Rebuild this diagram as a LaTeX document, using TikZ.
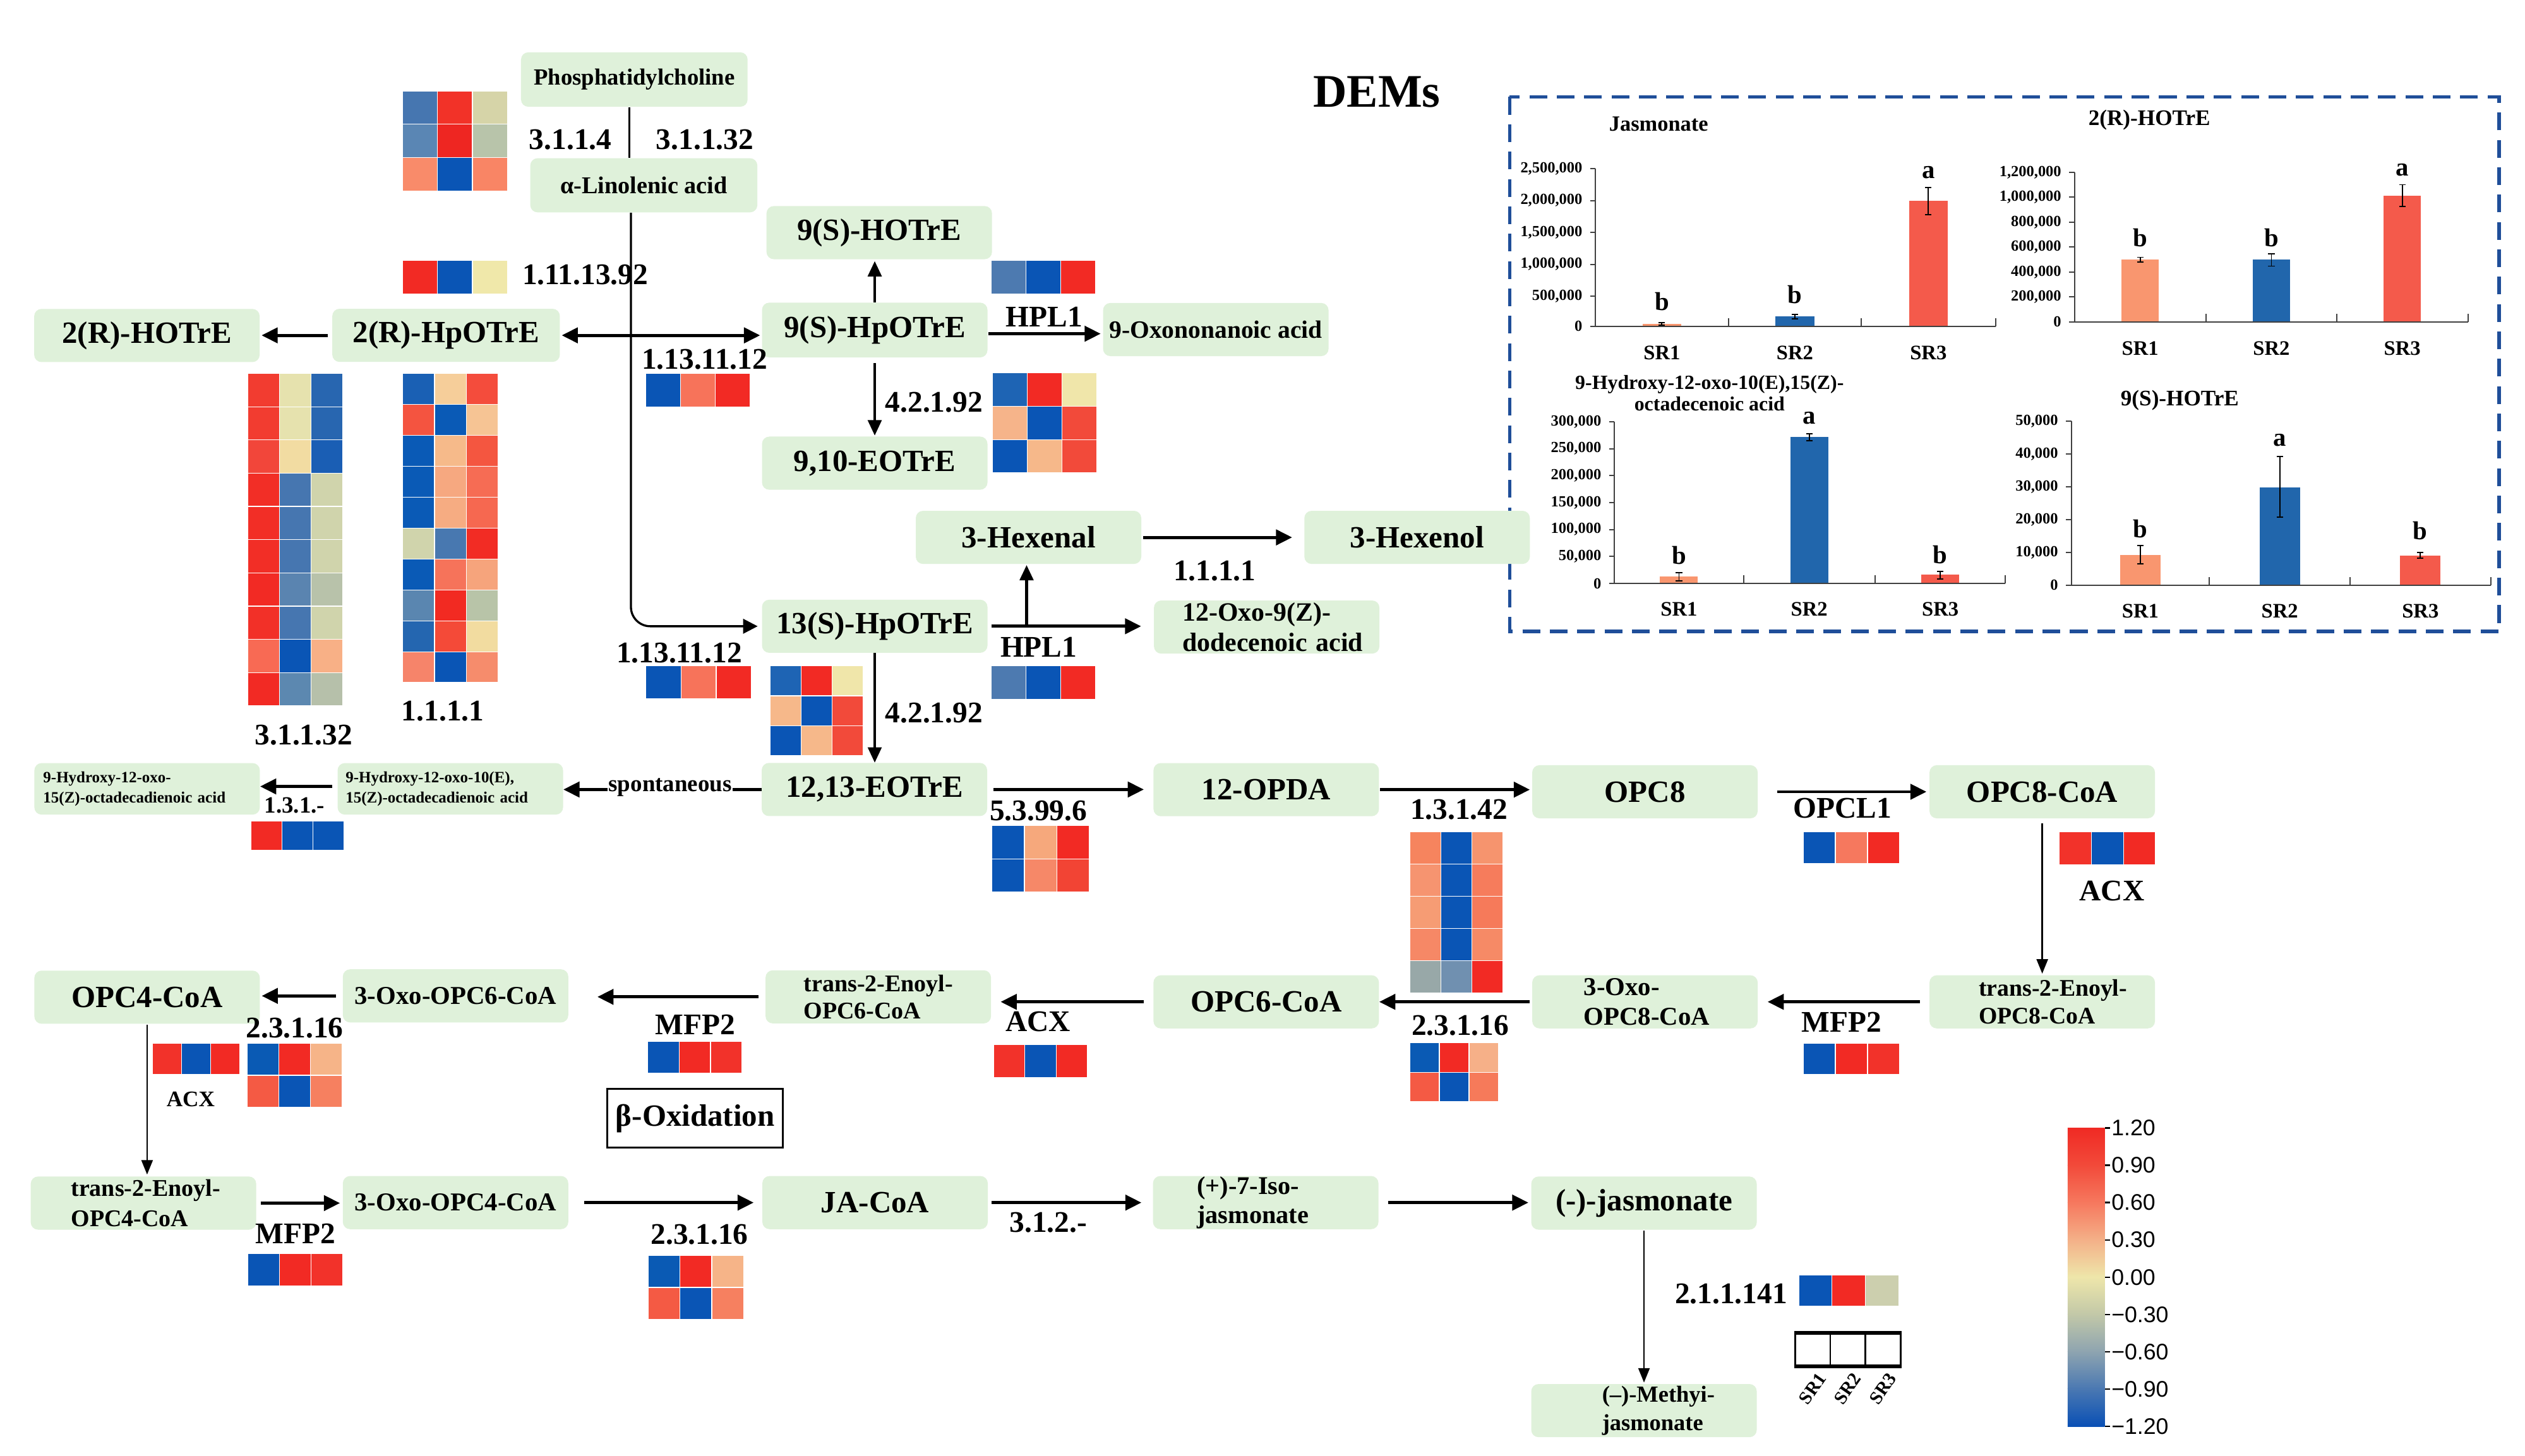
\documentclass[tikz,border=0pt]{standalone}
\usepackage{fontspec}
\setmainfont{Liberation Serif}
\newfontfamily\sansf{Liberation Sans}
\usetikzlibrary{arrows.meta}
\definecolor{boxg}{HTML}{DFF1DA}
\definecolor{dashblue}{HTML}{1F4E99}
\definecolor{barA}{HTML}{F9966F}
\definecolor{barB}{HTML}{2166AC}
\definecolor{barC}{HTML}{F45A4B}
\definecolor{cbA}{HTML}{F02A24}
\definecolor{cbB}{HTML}{F24A3A}
\definecolor{cbC}{HTML}{F6785E}
\definecolor{cbD}{HTML}{F4B088}
\definecolor{cbE}{HTML}{EEE6AA}
\definecolor{cbF}{HTML}{C2C8A8}
\definecolor{cbG}{HTML}{8EA4B0}
\definecolor{cbH}{HTML}{4A78B2}
\definecolor{cbI}{HTML}{0A50B5}
\newcommand\fzBig{\bfseries\fontsize{19.2}{21}\selectfont}
\newcommand\fzLab{\bfseries\fontsize{18.6}{20}\selectfont}
\newcommand\fzMed{\bfseries\fontsize{15.5}{18}\selectfont}
\newcommand\fzSml{\bfseries\fontsize{9.8}{12.6}\selectfont}
\newcommand\fzTick{\bfseries\fontsize{9.6}{10}\selectfont}
\newcommand\fzSR{\bfseries\fontsize{12.8}{13}\selectfont}
\newcommand\fzLet{\bfseries\fontsize{16}{17}\selectfont}
\newcommand\fzCT{\bfseries\fontsize{13.8}{15}\selectfont}
\newcommand\fzCB{\sansf\fontsize{14}{15}\selectfont}
\newcommand\hmcell[5]{\definecolor{hmtmp}{HTML}{#5}\fill[hmtmp,draw=white,line width=0.5pt] (#1,#2) rectangle ++(#3,#4);}
\newcommand\hmrow[7]{\hmcell{#1}{#2}{#3}{#4}{#5}\hmcell{#1+#3}{#2}{#3}{#4}{#6}\hmcell{#1+2*#3}{#2}{#3}{#4}{#7}}
\newcommand\ytk[4]{\draw[axc] (#1-3.3,#2) -- (#1,#2); \node[tk] (#4) at (#1-8,#2) {#3};}
\newcommand\ebar[3]{\draw[eb] (#1,#2) -- (#1,#3) (#1-2,#2) -- (#1+2,#2) (#1-2,#3) -- (#1+2,#3);}
\newcommand\cbar[5]{\fill[#5] (#1-#2/2,#3) rectangle (#1+#2/2,#4);}
\begin{document}
\begin{tikzpicture}[x=1pt,y=-1pt,
 bx/.style={fill=boxg, rounded corners=4.5pt, minimum width=140pt, minimum height=33pt, inner sep=0pt, align=center, font=\fzBig},
 bxl/.style={bx, align=left, text width=#1},
 lab/.style={inner sep=0pt, font=\fzLab},
 arw/.style={line width=1.9pt, -{Triangle[length=10pt,width=9.5pt]}, shorten <=2pt, shorten >=1.5pt},
 arwd/.style={line width=1.9pt, {Triangle[length=10pt,width=9.5pt]}-{Triangle[length=10pt,width=9.5pt]}, shorten <=1pt, shorten >=1pt},
 arwm/.style={line width=1.5pt, -{Triangle[length=9.5pt,width=8.5pt]}, shorten <=1pt, shorten >=1pt},
 arwt/.style={line width=1.1pt, -{Triangle[length=9pt,width=7pt]}, shorten <=2pt, shorten >=1pt},
 axc/.style={draw=black!75, line width=0.8pt},
 tk/.style={inner sep=0pt, font=\fzTick, anchor=east},
 sr/.style={inner sep=0pt, font=\fzSR},
 sigl/.style={inner sep=0pt, font=\fzLet},
 eb/.style={line width=0.7pt, black},
]
\fill[white] (0,0) rectangle (1568,904.4);
\useasboundingbox (0,0) rectangle (1568,904.4);

% ---------- inset with bar charts ----------
\draw[dashblue, line width=2.2pt, dash pattern=on 11pt off 6pt] (937.5,60.2) rectangle (1552,392.3);
% chart 1
\cbar{1032}{24}{201.2}{202.6}{barA}
\cbar{1114.6}{24}{196.5}{202.6}{barB}
\cbar{1197.5}{24}{124.8}{202.6}{barC}
\draw[axc] (990.8,104.8) -- (990.8,202.6) -- (1239.2,202.6);
\draw[axc] (1073.3,202.6) -- ++(0,-5) (1155.9,202.6) -- ++(0,-5) (1239.2,202.6) -- ++(0,-5);
\ytk{990.8}{104.8}{2,500,000}{c1a}
\ytk{990.8}{124.6}{2,000,000}{c1b}
\ytk{990.8}{144.4}{1,500,000}{c1c}
\ytk{990.8}{164.2}{1,000,000}{c1d}
\ytk{990.8}{183.9}{500,000}{c1e}
\ytk{990.8}{202.6}{0}{c1f}
\ebar{1032}{200.3}{202}
\ebar{1114.6}{195.2}{198}
\ebar{1197.5}{116.5}{133.2}
\node[sigl] (c1l1) at (1032,187.3) {b};
\node[sigl] (c1l2) at (1114.6,182.8) {b};
\node[sigl] (c1l3) at (1197.5,107) {a};
\node[sr] (c1s1) at (1032,219.3) {SR1};
\node[sr] (c1s2) at (1114.6,219.3) {SR2};
\node[sr] (c1s3) at (1197.5,219.3) {SR3};
\node[inner sep=0pt, font=\bfseries\fontsize{13.5}{15}\selectfont] (c1t) at (1030,76.9) {Jasmonate};
% chart 2
\cbar{1329}{23}{161.3}{200}{barA}
\cbar{1410.5}{23}{161.3}{200}{barB}
\cbar{1491.8}{23}{121.5}{200}{barC}
\draw[axc] (1288.2,107) -- (1288.2,200) -- (1532.6,200);
\draw[axc] (1370,200) -- ++(0,-5) (1451,200) -- ++(0,-5) (1532.6,200) -- ++(0,-5);
\ytk{1288.2}{107}{1,200,000}{c2a}
\ytk{1288.2}{122.5}{1,000,000}{c2b}
\ytk{1288.2}{138}{800,000}{c2c}
\ytk{1288.2}{153.5}{600,000}{c2d}
\ytk{1288.2}{169}{400,000}{c2e}
\ytk{1288.2}{184.5}{200,000}{c2f}
\ytk{1288.2}{200}{0}{c2g}
\ebar{1329}{159.8}{162.8}
\ebar{1410.5}{157.6}{165.3}
\ebar{1491.8}{114.7}{128.3}
\node[sigl] (c2l1) at (1329,147.7) {b};
\node[sigl] (c2l2) at (1410.5,147.7) {b};
\node[sigl] (c2l3) at (1491.8,105.5) {a};
\node[sr] (c2s1) at (1329,216.3) {SR1};
\node[sr] (c2s2) at (1410.5,216.3) {SR2};
\node[sr] (c2s3) at (1491.8,216.3) {SR3};
\node[inner sep=0pt, font=\fzCT] (c2t) at (1334.7,74.7) {2(R)-HOTrE};
% chart 3
\cbar{1042.6}{23.5}{358}{362.4}{barA}
\cbar{1123.5}{23.5}{271.4}{362.4}{barB}
\cbar{1204.9}{23.5}{356.7}{362.4}{barC}
\draw[axc] (1002.5,262) -- (1002.5,362.4) -- (1245.3,362.4);
\draw[axc] (1082.7,362.4) -- ++(0,-5) (1164.4,362.4) -- ++(0,-5) (1245.3,362.4) -- ++(0,-5);
\ytk{1002.5}{262}{300,000}{c3a}
\ytk{1002.5}{278.7}{250,000}{c3b}
\ytk{1002.5}{295.4}{200,000}{c3c}
\ytk{1002.5}{312.1}{150,000}{c3d}
\ytk{1002.5}{328.9}{100,000}{c3e}
\ytk{1002.5}{345.7}{50,000}{c3f}
\ytk{1002.5}{362.4}{0}{c3g}
\ebar{1042.6}{355.8}{360.9}
\ebar{1123.5}{269.5}{273.8}
\ebar{1204.9}{355}{359.6}
\node[sigl] (c3l1) at (1042.6,345) {b};
\node[sigl] (c3l2) at (1123.5,259.8) {a};
\node[sigl] (c3l3) at (1204.9,344.6) {b};
\node[sr] (c3s1) at (1042.6,378.5) {SR1};
\node[sr] (c3s2) at (1123.5,378.5) {SR2};
\node[sr] (c3s3) at (1204.9,378.5) {SR3};
\node[inner sep=0pt, align=center, font=\bfseries\fontsize{12.5}{13.6}\selectfont] (c3t) at (1061.6,244.2) {9-Hydroxy-12-oxo-10(E),15(Z)-\\octadecenoic acid};
% chart 4
\cbar{1329.1}{25}{344.6}{363.5}{barA}
\cbar{1415.7}{25}{302.6}{363.5}{barB}
\cbar{1503}{25}{345}{363.5}{barC}
\draw[axc] (1286.2,261.5) -- (1286.2,363.5) -- (1546.7,363.5);
\draw[axc] (1372,363.5) -- ++(0,-5) (1459.4,363.5) -- ++(0,-5) (1546.7,363.5) -- ++(0,-5);
\ytk{1286.2}{261.5}{50,000}{c4a}
\ytk{1286.2}{281.9}{40,000}{c4b}
\ytk{1286.2}{302.3}{30,000}{c4c}
\ytk{1286.2}{322.7}{20,000}{c4d}
\ytk{1286.2}{343.1}{10,000}{c4e}
\ytk{1286.2}{363.5}{0}{c4f}
\ebar{1329.1}{339}{350.3}
\ebar{1415.7}{283.5}{321.3}
\ebar{1503}{343.3}{346.6}
\node[sigl] (c4l1) at (1329.1,328.4) {b};
\node[sigl] (c4l2) at (1415.7,273.4) {a};
\node[sigl] (c4l3) at (1503,329.7) {b};
\node[sr] (c4s1) at (1329.1,379.6) {SR1};
\node[sr] (c4s2) at (1415.7,379.6) {SR2};
\node[sr] (c4s3) at (1503,379.6) {SR3};
\node[inner sep=0pt, font=\fzCT] (c4t) at (1353.6,248.8) {9(S)-HOTrE};

\node[inner sep=0pt, font=\bfseries\fontsize{29}{30}\selectfont] (dems) at (855,57) {DEMs};

% ---------- compound boxes ----------
\node[bx, font=\bfseries\fontsize{14.4}{16}\selectfont, minimum width=140.7pt, minimum height=33.8pt] (pc) at (393.9,49.4) {Phosphatidylcholine};
\node[bx, font=\bfseries\fontsize{15}{17}\selectfont, minimum width=141pt, minimum height=33.6pt] (ala) at (399.8,115.1) {α-Linolenic acid};
\node[bx] (ho2r) at (91.25,208.4) {2(R)-HOTrE};
\node[bx, minimum width=141.3pt] (hp2r) at (277,208.3) {2(R)-HpOTrE};
\node[bx, minimum height=34pt] (hp9) at (543.2,205) {9(S)-HpOTrE};
\node[bx] (ho9) at (546,144.5) {9(S)-HOTrE};
\node[bx, font=\fzMed] (oxo9) at (755,204.7) {9-Oxononanoic acid};
\node[bx] (eo910) at (543.2,287.7) {9,10-EOTrE};
\node[bx] (hexal) at (638.7,333.8) {3-Hexenal};
\node[bx] (hexol) at (880,333.8) {3-Hexenol};
\node[bx] (hp13) at (543.2,389) {13(S)-HpOTrE};
\node[bxl=104.5pt, font=\bfseries\fontsize{16.4}{19}\selectfont] (oxo12) at (786.6,389.5) {\mbox{12-Oxo-9(Z)-}\\\mbox{dodecenoic acid}};
\node[bx] (eo1213) at (543,490.4) {12,13-EOTrE};
\node[bxl=130pt, font=\fzSml, minimum height=32pt] (hy10) at (279.65,490) {\mbox{9-Hydroxy-12-oxo-10(E),}\\\mbox{15(Z)-octadecadienoic acid}};
\node[bxl=129pt, font=\fzSml, minimum height=32pt] (hy15) at (91.35,490) {\mbox{9-Hydroxy-12-oxo-}\\\mbox{15(Z)-octadecadienoic acid}};
\node[bx] (opda) at (786.3,490.5) {12-OPDA};
\node[bx] (opc8) at (1021.5,491.8) {OPC8};
\node[bx] (o8coa) at (1268.2,491.8) {OPC8-CoA};
\node[bxl=78.8pt, font=\bfseries\fontsize{14.8}{17}\selectfont] (t8) at (1268.2,622.3) {\mbox{trans-2-Enoyl-}\\\mbox{OPC8-CoA}};
\node[bxl=76pt, font=\bfseries\fontsize{16}{18.7}\selectfont] (x8) at (1021.5,622.3) {\mbox{3-Oxo-}\\\mbox{OPC8-CoA}};
\node[bx] (o6coa) at (786.3,622.3) {OPC6-CoA};
\node[bxl=92.6pt, font=\bfseries\fontsize{14.9}{17}\selectfont] (t6) at (545.4,619.2) {\mbox{trans-2-Enoyl-}\\\mbox{OPC6-CoA}};
\node[bx, font=\bfseries\fontsize{16}{18}\selectfont] (x6) at (282.9,618.6) {3-Oxo-OPC6-CoA};
\node[bx] (o4coa) at (91.35,619.4) {OPC4-CoA};
\node[bxl=90pt, font=\bfseries\fontsize{14.9}{18.8}\selectfont] (t4) at (89.1,747.3) {\mbox{trans-2-Enoyl-}\\\mbox{OPC4-CoA}};
\node[bx, font=\bfseries\fontsize{16}{18}\selectfont] (x4) at (282.9,747) {3-Oxo-OPC4-CoA};
\node[bx] (jacoa) at (543.4,747) {JA-CoA};
\node[bxl=85.4pt, font=\bfseries\fontsize{15.8}{18}\selectfont] (iso) at (786,747) {\mbox{(+)-7-Iso-}\\\mbox{jasmonate}};
\node[bx] (ja) at (1020.9,747.3) {(-)-jasmonate};
\node[bxl=52pt, font=\bfseries\fontsize{14.3}{17.5}\selectfont] (meja) at (1020.9,876.2) {\mbox{(–)-Methyi-}\\\mbox{jasmonate}};
\node[draw, line width=1.2pt, minimum width=109pt, minimum height=36.3pt, inner sep=0pt, font=\fzBig] (boxb) at (431.7,694.65) {β-Oxidation};

% ---------- heatmaps ----------
\hmrow{250}{56.5}{21.7}{20.7}{4676B0}{F23228}{D6D4A8}
\hmrow{250}{77.2}{21.7}{20.7}{5A86B4}{EE2622}{B8C4AA}
\hmrow{250}{97.9}{21.7}{20.7}{F98B6A}{0A55B5}{F98565}
\hmrow{250}{161.9}{21.7}{20.7}{F22A24}{0A55B5}{F0E8AA}
\hmrow{401}{231.8}{21.6}{21.2}{0A55B5}{F7735A}{F22A24}
\hmrow{615.5}{161.6}{21.6}{21.2}{4D7AB0}{0A55B5}{F22A24}
\hmrow{616.2}{231.7}{21.6}{20.67}{1E64B4}{F22A24}{F0E6AA}
\hmrow{616.2}{252.37}{21.6}{20.67}{F6B48A}{0A55B5}{F24A3A}
\hmrow{616.2}{273.04}{21.6}{20.67}{0A55B5}{F6B88A}{F24A3A}
\hmrow{615.5}{413.7}{21.6}{20.8}{4D7AB0}{0A55B5}{F22A24}
\hmrow{401.1}{413.5}{21.8}{20.7}{0A55B5}{F7735A}{F22A24}
\hmrow{478.4}{413.7}{19.2}{18.5}{1E64B4}{F22A24}{F0E6AA}
\hmrow{478.4}{432.2}{19.2}{18.5}{F6B88A}{0A55B5}{F24A3A}
\hmrow{478.4}{450.7}{19.2}{18.5}{0A55B5}{F6B88A}{F24A3A}
\hmrow{156}{510}{19.2}{18}{F22A24}{0A55B5}{0A55B5}
% 3.1.1.32
\hmrow{153.8}{232}{19.67}{20.64}{F23C30}{E6E2AE}{2866B0}
\hmrow{153.8}{252.64}{19.67}{20.64}{F23C30}{E6E2AE}{2866B0}
\hmrow{153.8}{273.28}{19.67}{20.64}{F2463A}{F2DCA2}{1A5EB4}
\hmrow{153.8}{293.92}{19.67}{20.64}{F22E26}{4676B0}{D0D4AC}
\hmrow{153.8}{314.56}{19.67}{20.64}{F22E26}{4676B0}{D0D4AC}
\hmrow{153.8}{335.2}{19.67}{20.64}{F22E26}{4676B0}{D0D4AC}
\hmrow{153.8}{355.84}{19.67}{20.64}{F22A24}{5A84B0}{B8C2AA}
\hmrow{153.8}{376.48}{19.67}{20.64}{F23028}{4676B0}{D0D4AC}
\hmrow{153.8}{397.12}{19.67}{20.64}{F86A54}{0A55B5}{F8B086}
\hmrow{153.8}{417.76}{19.67}{20.64}{F22A24}{5C88B0}{B6C0AA}
% 1.1.1.1
\hmrow{250}{232}{19.8}{19.2}{1A60B4}{F6CE9A}{F44C3C}
\hmrow{250}{251.2}{19.8}{19.2}{F45440}{0A5AB6}{F6C494}
\hmrow{250}{270.4}{19.8}{19.2}{0A5AB6}{F6BA8A}{F45640}
\hmrow{250}{289.6}{19.8}{19.2}{0A5AB6}{F6A880}{F66C54}
\hmrow{250}{308.8}{19.8}{19.2}{0A5AB6}{F6AC82}{F66850}
\hmrow{250}{328}{19.8}{19.2}{D0D4AC}{4878B0}{F22C24}
\hmrow{250}{347.2}{19.8}{19.2}{0A5AB6}{F6735A}{F6A47C}
\hmrow{250}{366.4}{19.8}{19.2}{5A86B0}{F22A22}{B8C4A8}
\hmrow{250}{385.6}{19.8}{19.2}{2466B0}{F44A38}{F2DCA0}
\hmrow{250}{404.8}{19.8}{19.2}{F6846A}{0A55B5}{F68C6C}
% 5.3.99.6
\hmrow{616}{512.7}{20.13}{20.75}{0A55B5}{F6A87C}{F22A24}
\hmrow{616}{533.45}{20.13}{20.75}{0A55B5}{F68868}{F24434}
% 1.3.1.42
\hmrow{875.4}{516.5}{19.3}{20.08}{F6845E}{0A55B5}{F6946E}
\hmrow{875.4}{536.58}{19.3}{20.08}{F69470}{0A55B5}{F67C5C}
\hmrow{875.4}{556.66}{19.3}{20.08}{F69C74}{0A55B5}{F67A5A}
\hmrow{875.4}{576.74}{19.3}{20.08}{F68866}{0A55B5}{F68A66}
\hmrow{875.4}{596.82}{19.3}{20.08}{98A8A8}{7090B0}{F22A24}
% OPCL1, ACX, MFP2 (right)
\hmrow{1119.8}{516.7}{19.93}{19.7}{0A55B5}{F6785E}{F22A24}
\hmrow{1278.6}{516.7}{20}{20.3}{F2322A}{0A55B5}{F22A24}
\hmrow{1119.8}{648}{19.93}{19.5}{0A55B5}{F22A24}{F2322A}
% 2.3.1.16 (OPC6)
\hmrow{875.4}{647.7}{18.43}{18.3}{0A5AB4}{F22A24}{F6B088}
\hmrow{875.4}{666}{18.43}{18.3}{F45A44}{0A55B5}{F67A5A}
% ACX, MFP2 (middle)
\hmrow{616.9}{648.9}{19.5}{20.4}{F2322A}{0A55B5}{F22A24}
\hmrow{402.2}{646.7}{19.53}{19.9}{0A55B5}{F22A24}{F2322A}
% ACX (OPC4), 2.3.1.16 (OPC4)
\hmrow{94.6}{648.2}{18.1}{19.1}{F2322A}{0A55B5}{F22A24}
\hmrow{153.5}{648}{19.6}{19.85}{0A5AB4}{F22A24}{F6B488}
\hmrow{153.5}{667.85}{19.6}{19.85}{F45A44}{0A55B5}{F68060}
% MFP2 (OPC4), 2.3.1.16 (JA)
\hmrow{153.8}{778.8}{19.73}{19.8}{0A55B5}{F22A24}{F2322A}
\hmrow{402.6}{779.9}{19.7}{19.75}{0A5AB4}{F22A24}{F6B488}
\hmrow{402.6}{799.65}{19.7}{19.75}{F45A44}{0A55B5}{F68060}
% 2.1.1.141
\hmrow{1117}{792}{20.67}{19.4}{0A55B5}{F22A24}{CCCFAE}
% sample legend
\draw[line width=1pt] (1114.7,827.9) rectangle (1180.2,848.7);
\draw[line width=1pt] (1136.5,827.9) -- (1136.5,848.7) (1158.4,827.9) -- (1158.4,848.7);
\draw[line width=2.2pt] (1114.2,827.9) -- (1180.7,827.9) (1114.2,848.7) -- (1180.7,848.7);
\node[sr, font=\bfseries\fontsize{11.5}{12}\selectfont, rotate=55, anchor=east] (sa1) at (1131.5,854) {SR1};
\node[sr, font=\bfseries\fontsize{11.5}{12}\selectfont, rotate=55, anchor=east] (sa2) at (1153.3,854) {SR2};
\node[sr, font=\bfseries\fontsize{11.5}{12}\selectfont, rotate=55, anchor=east] (sa3) at (1175.2,854) {SR3};

% ---------- colour bar ----------
\shade[top color=cbA, bottom color=cbB] (1284,700.6) rectangle (1307,723.8);
\shade[top color=cbB, bottom color=cbC] (1284,723.7) rectangle (1307,747);
\shade[top color=cbC, bottom color=cbD] (1284,746.9) rectangle (1307,770.1);
\shade[top color=cbD, bottom color=cbE] (1284,770) rectangle (1307,793.3);
\shade[top color=cbE, bottom color=cbF] (1284,793.2) rectangle (1307,816.5);
\shade[top color=cbF, bottom color=cbG] (1284,816.4) rectangle (1307,839.6);
\shade[top color=cbG, bottom color=cbH] (1284,839.5) rectangle (1307,862.8);
\shade[top color=cbH, bottom color=cbI] (1284,862.7) rectangle (1307,886);
\foreach \i/\t in {0/1.20,1/0.90,2/0.60,3/0.30,4/0.00,5/−0.30,6/−0.60,7/−0.90,8/−1.20}{
  \draw[line width=0.9pt] (1307,700.6+23.175*\i) -- (1310.5,700.6+23.175*\i);
  \node[anchor=west, inner sep=0pt, font=\fzCB] (cb\i) at (1311,700.6+23.175*\i) {\t};
}

% ---------- connectors ----------
\draw[line width=1.1pt] ([xshift=-3pt]pc.south) -- ([xshift=-3pt]pc.south |- ala.north);
\draw[line width=1.3pt, -{Triangle[length=9pt,width=9pt]}, rounded corners=12pt, shorten >=2.5pt] ([xshift=-8pt]ala.south) -- ([xshift=-8pt]ala.south |- hp13.west) -- (hp13.west);
\draw[arw, shorten <=2.5pt, shorten >=1pt] (hp2r.west) -- (ho2r.east |- hp2r.west);
\draw[arwd] (hp2r.east) -- (hp9.west |- hp2r.east);
\draw[arwm, shorten <=0pt] (hp9.north) -- (hp9.north |- ho9.south);
\draw[arw, shorten <=0.5pt, shorten >=1.3pt] ([yshift=-2.3pt]hp9.east) -- ([yshift=-2.3pt]hp9.east -| oxo9.west);
\draw[arwm, line width=1.3pt, shorten <=3.5pt, shorten >=0.5pt] (hp9.south) -- (hp9.south |- eo910.north);
\draw[arw, shorten <=1pt, shorten >=7.4pt] (hexal.east) -- (hexal.east -| hexol.west);
\draw[arw, shorten <=2.2pt, shorten >=7.8pt] (hp13.east) -- (hp13.east -| oxo12.west);
\draw[arwm, line width=1.6pt, shorten <=0pt, shorten >=0.5pt] ([xshift=-1.2pt]hexal.south |- hp13.east) -- ([xshift=-1.2pt]hexal.south);
\draw[arwm, line width=1.3pt, shorten <=0pt, shorten >=0pt] (hp13.south) -- (hp13.south |- eo1213.north);
\draw[arw, shorten <=0pt, shorten >=0pt] (eo1213.west) -- (eo1213.west -| hy10.east);
\node[fill=white, inner sep=0.5pt, font=\bfseries\fontsize{14.5}{16}\selectfont] (spon) at (416.2,489) {spontaneous};
\draw[arw, shorten <=3pt, shorten >=0pt] ([yshift=1.5pt]hy10.west) -- ([yshift=1.5pt]hy10.west -| hy15.east);
\draw[arw, shorten <=3.6pt, shorten >=5.8pt] (eo1213.east) -- (eo1213.east -| opda.west);
\draw[arw, shorten <=0.5pt, shorten >=1.3pt] (opda.east) -- (opda.east -| opc8.west);
\draw[arw, shorten <=12pt, shorten >=1.7pt] (opc8.east) -- (opc8.east -| o8coa.west);
\draw[arwt, shorten <=2.8pt, shorten >=0.8pt] (o8coa.south) -- (o8coa.south |- t8.north);
\draw[arw, shorten <=5.9pt, shorten >=6pt] (t8.west) -- (t8.west -| x8.east);
\draw[arw, shorten <=1.5pt, shorten >=0pt] (x8.west) -- (x8.west -| o6coa.east);
\draw[arw, shorten <=5.8pt, shorten >=5.8pt] (o6coa.west) -- (o6coa.west -| t6.east);
\draw[arw, shorten <=4pt, shorten >=17.9pt] (t6.west) -- (t6.west -| x6.east);
\draw[arw, shorten <=4.2pt, shorten >=1pt] (x6.west) -- (x6.west -| o4coa.east);
\draw[arwt, shorten <=0.5pt, shorten >=1pt] (o4coa.south) -- (o4coa.south |- t4.north);
\draw[arw, shorten <=2.7pt, shorten >=1.6pt] (t4.east) -- (t4.east -| x4.west);
\draw[arw, shorten <=9.8pt, shorten >=5.2pt] (x4.east) -- (x4.east -| jacoa.west);
\draw[arw, shorten <=2.1pt, shorten >=7pt] (jacoa.east) -- (jacoa.east -| iso.west);
\draw[arw, shorten <=6pt, shorten >=1.6pt] (iso.east) -- (iso.east -| ja.west);
\draw[arwt, shorten <=0.5pt, shorten >=0.7pt] (ja.south) -- (ja.south |- meja.north);

% ---------- enzyme labels ----------
\node[lab] (e3114) at (354.2,86.6) {3.1.1.4};
\node[lab] (e3132a) at (437.7,86.6) {3.1.1.32};
\node[lab] (e1113) at (363.4,170.6) {1.11.13.92};
\node[lab] (e13a) at (437.5,223.1) {1.13.11.12};
\node[lab] (hpl1a) at (648.4,196.7) {HPL1};
\node[lab] (e42a) at (580,249.7) {4.2.1.92};
\node[lab] (e1111b) at (754.3,354.7) {1.1.1.1};
\node[lab] (e13b) at (421.8,405.7) {1.13.11.12};
\node[lab] (hpl1b) at (645,401.8) {HPL1};
\node[lab] (e42b) at (580,443) {4.2.1.92};
\node[lab] (e3132b) at (188.6,456.6) {3.1.1.32};
\node[lab] (e1111c) at (275,441.7) {1.1.1.1};
\node[lab, font=\bfseries\fontsize{14.5}{16}\selectfont] (e131) at (182.9,500.4) {1.3.1.-};
\node[lab] (e5399) at (644.8,503.8) {5.3.99.6};
\node[lab] (e13142) at (906,503) {1.3.1.42};
\node[lab] (opcl) at (1144.2,502) {OPCL1};
\node[lab] (acx1) at (1311.5,553.3) {ACX};
\node[lab] (mfp1) at (1143.5,634.7) {MFP2};
\node[lab] (e23a) at (906.8,637.1) {2.3.1.16};
\node[lab] (acx2) at (644.7,634.7) {ACX};
\node[lab] (mfp2) at (431.7,636.3) {MFP2};
\node[lab] (e23b) at (183,638.5) {2.3.1.16};
\node[lab, font=\bfseries\fontsize{13.8}{15}\selectfont] (acx3) at (118.4,683) {ACX};
\node[lab] (mfp3) at (183.6,766.1) {MFP2};
\node[lab] (e23c) at (434.4,766.8) {2.3.1.16};
\node[lab] (e312) at (651,759.5) {3.1.2.-};
\node[lab] (e2111) at (1075,803.8) {2.1.1.141};
\end{tikzpicture}
\end{document}
